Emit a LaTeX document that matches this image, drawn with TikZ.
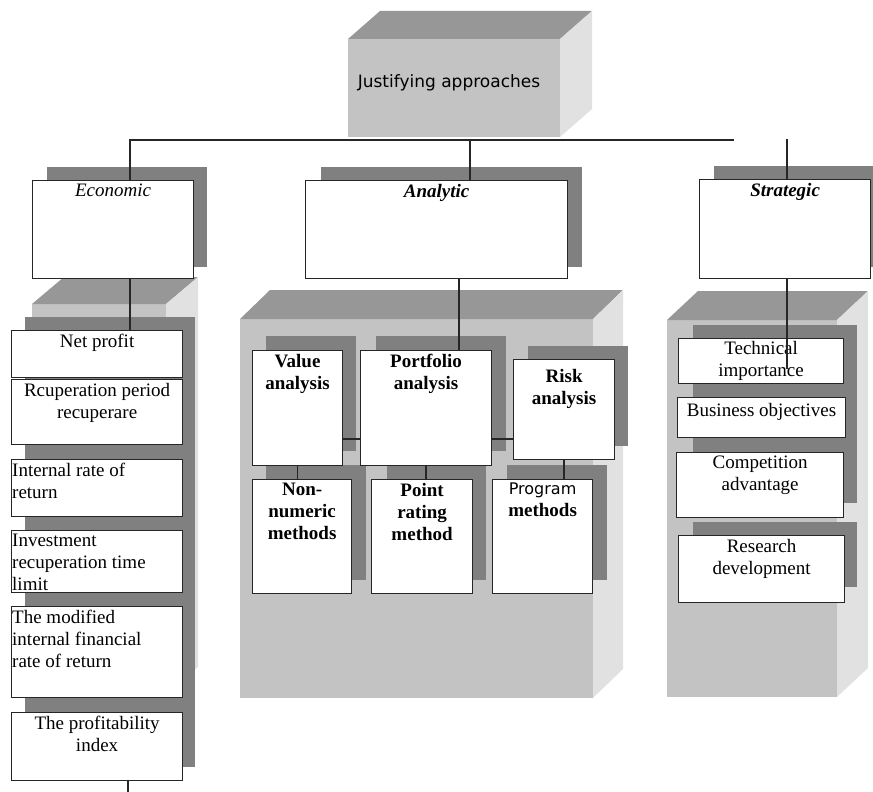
\documentclass[tikz,border=0pt]{standalone}
\usepackage{fontspec}
\setmainfont{Liberation Serif}
\newfontfamily\headfont{DejaVu Sans}
\usepackage{tikz}

\definecolor{shadegray}{HTML}{808080}
\definecolor{topgray}{HTML}{979797}
\definecolor{frontgray}{HTML}{C3C3C3}
\definecolor{sidegray}{HTML}{E1E1E1}

\newcommand{\lfont}{\fontsize{19}{22}\selectfont}
% block with top and right faces: x1 y1 x2 y2 dx dy
\newcommand{\cuboid}[6]{%
  \fill[frontgray] (#1,#2) rectangle (#3,#4);
  \fill[topgray] (#1,#2) -- ++(#5,-#6) -- (#3+#5,#2-#6) -- (#3,#2) -- cycle;
  \fill[sidegray] (#3,#2) -- (#3+#5,#2-#6) -- (#3+#5,#4-#6) -- (#3,#4) -- cycle;
}

\tikzset{
  wbox/.style={draw=black!85, fill=white, line width=1.2pt, inner sep=0pt, anchor=north west},
  ctxt/.style={anchor=north, yshift=-4pt, align=center, inner sep=0pt, font=\lfont},
  ltxt/.style={anchor=north west, xshift=1pt, yshift=-4pt, align=left, inner sep=0pt, font=\lfont},
  conn/.style={draw=black!85, line width=1.3pt}
}

\begin{document}
\begin{tikzpicture}[x=1pt,y=-1pt]
  \useasboundingbox (0,0) rectangle (873,792);

  % the grey blocks
  \cuboid{348}{39}{560}{137}{32}{28}
  \node[font=\headfont\fontsize{17}{20}\selectfont, inner sep=0pt] (head) at (449,83) {Justifying approaches};
  \cuboid{32}{304}{166}{694}{32}{27}
  \cuboid{240}{319}{593}{698}{30}{29}
  \cuboid{667}{320}{837}{697}{31}{29}

  % shadows
  \fill[shadegray] (47,167) rectangle (207,267);
  \fill[shadegray] (321,167) rectangle (582,267);
  \fill[shadegray] (714,166) rectangle (873,267);
  \fill[shadegray] (25,317) rectangle (195,767);
  \fill[shadegray] (266,336) rectangle (356,451);
  \fill[shadegray] (376,336) rectangle (506,451);
  \fill[shadegray] (528,346) rectangle (628,446);
  \fill[shadegray] (266,465) rectangle (366,580);
  \fill[shadegray] (387,465) rectangle (486,580);
  \fill[shadegray] (507,465) rectangle (607,580);
  \fill[shadegray] (693,325) rectangle (857,503);
  \fill[shadegray] (693,522) rectangle (857,587);

  % headers
  \node[wbox, minimum width=161pt, minimum height=98pt,
        label={[ctxt]north:\textit{Economic}}] (econ) at (32,180) {};
  \node[wbox, minimum width=262pt, minimum height=98pt,
        label={[ctxt]north:\textbf{\textit{Analytic}}}] (analytic) at (305,180) {};
  \node[wbox, minimum width=171pt, minimum height=99pt,
        label={[ctxt]north:\textbf{\textit{Strategic}}}] (strat) at (699,179) {};

  % economic
  \node[wbox, minimum width=171pt, minimum height=47pt,
        label={[ctxt]north:Net profit}] (netp) at (11,330) {};
  \node[wbox, minimum width=171pt, minimum height=65pt,
        label={[ctxt]north:Rcuperation period\\recuperare}] (rcup) at (11,379) {};
  \node[wbox, minimum width=171pt, minimum height=57pt,
        label={[ltxt]north west:Internal rate of\\return}] (irr) at (11,459) {};
  \node[wbox, minimum width=171pt, minimum height=62pt,
        label={[ltxt]north west:Investment\\recuperation time\\limit}] (invest) at (11,530) {};
  \node[wbox, minimum width=171pt, minimum height=91pt,
        label={[ltxt]north west:The modified\\internal financial\\rate of return}] (modif) at (11,606) {};
  \node[wbox, minimum width=171pt, minimum height=68pt,
        label={[ctxt]north:The profitability\\index}] (prof) at (11,712) {};

  % analytic
  \node[wbox, minimum width=90pt, minimum height=115pt,
        label={[ctxt]north:\textbf{Value}\\\textbf{analysis}}] (value) at (252,350) {};
  \node[wbox, minimum width=131pt, minimum height=115pt,
        label={[ctxt]north:\textbf{Portfolio}\\\textbf{analysis}}] (portf) at (360,350) {};
  \node[wbox, minimum width=101pt, minimum height=100pt,
        label={[ctxt, yshift=-6pt]north:\textbf{Risk}\\\textbf{analysis}}] (risk) at (513,359) {};
  \node[wbox, minimum width=99pt, minimum height=114pt,
        label={[ctxt]north:\textbf{Non-}\\\textbf{numeric}\\\textbf{methods}}] (nonnum) at (252,479) {};
  \node[wbox, minimum width=101pt, minimum height=114pt,
        label={[ctxt]north:\textbf{Point}\\\textbf{rating}\\\textbf{method}}] (point) at (371,479) {};
  \node[wbox, minimum width=100pt, minimum height=114pt,
        label={[ctxt]north:{\headfont\fontsize{16}{22}\selectfont Program}\\\textbf{methods}}] (progm) at (492,479) {};

  % strategic
  \node[wbox, minimum width=165pt, minimum height=45pt,
        label={[ctxt, yshift=1pt]north:Technical\\importance}] (tech) at (678,338) {};
  \node[wbox, minimum width=168pt, minimum height=40pt,
        label={[ctxt, yshift=-2pt]north:Business objectives}] (busi) at (677,397) {};
  \node[wbox, minimum width=167pt, minimum height=65pt,
        label={[ctxt]north:Competition\\advantage}] (comp) at (676,452) {};
  \node[wbox, minimum width=166pt, minimum height=67pt,
        label={[ctxt]north:Research\\development}] (resd) at (678,535) {};

  % connectors
  \coordinate (bl) at (130,140);
  \coordinate (br) at (734,140);
  \coordinate (bar) at (470,140);
  \coordinate (sr) at (787,139);
  \coordinate (av) at (459,0);
  \coordinate (hy) at (0,439);
  \coordinate (bot) at (128,792);
  \draw[conn] (bl |- econ.north) -- (bl) -- (br);
  \draw[conn] (bar) -- (bar |- analytic.north);
  \draw[conn] (sr) -- (sr |- strat.north);
  \draw[conn] (econ.south -| bl) -- (netp.north -| bl);
  \draw[conn] (prof.south -| bot) -- (bot);
  \draw[conn] (analytic.south -| av) -- (portf.north -| av);
  \draw[conn] (value.east |- hy) -- (portf.west |- hy);
  \draw[conn] (portf.east |- hy) -- (risk.west |- hy);
  \draw[conn] (value.south) -- (value.south |- nonnum.north);
  \draw[conn] (portf.south) -- (portf.south |- point.north);
  \draw[conn] (risk.south) -- (risk.south |- progm.north);
  \draw[conn] (strat.south -| sr) -- ([yshift=-8pt]tech.center -| sr);
\end{tikzpicture}
\end{document}
